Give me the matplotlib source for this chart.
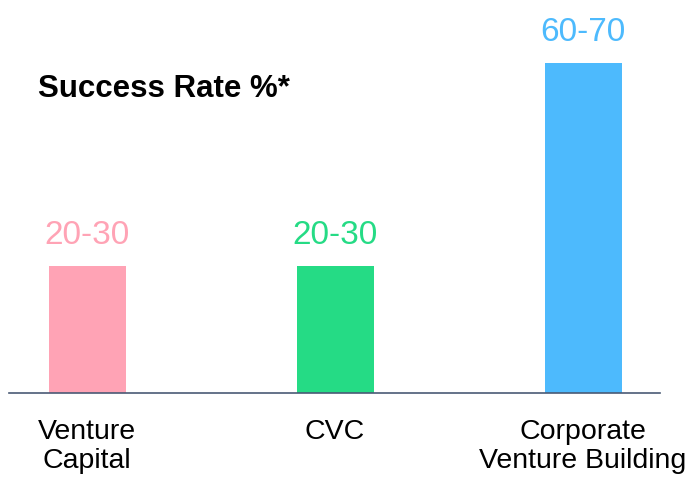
import matplotlib.pyplot as plt

# Dati
categorie = ['Venture\nCapital', 'CVC', 'Corporate\nVenture Building']
valori = [25, 25, 65]          # punto medio dell'intervallo
etichette = ['20-30', '20-30', '60-70']
colori = ['#FFA3B5', '#25DB85', '#4DBAFD']

plt.rcParams['font.family'] = ['Liberation Sans', 'DejaVu Sans']

fig = plt.figure(figsize=(6.9, 4.8), dpi=100)
ax = fig.add_axes([9 / 690, 87 / 480, 651 / 690, 393 / 480])

x = range(len(categorie))
ax.bar(x, valori, width=0.31, color=colori)

for xi, v, lab, c in zip(x, valori, etichette, colori):
    ax.annotate(lab, (xi, v), xytext=(0, 11), textcoords='offset points',
                ha='center', va='bottom', fontsize=24, color=c)

ax.set_xlim(-0.315, 2.31)
ax.set_ylim(0, 77.5)

for s in ['top', 'right', 'left']:
    ax.spines[s].set_visible(False)
ax.spines['bottom'].set_color('#4a5a75')
ax.spines['bottom'].set_linewidth(1.2)
ax.set_yticks([])
ax.set_xticks(list(x))
ax.set_xticklabels(categorie, fontsize=20.5, linespacing=1.15)
ax.tick_params(axis='x', length=0, pad=19)

ax.text(38 / 690, 1 - 89 / 480, 'Success Rate %*', transform=fig.transFigure,
        fontsize=22.5, fontweight='bold', ha='left', va='center')

fig.savefig('out.png', dpi=100)
